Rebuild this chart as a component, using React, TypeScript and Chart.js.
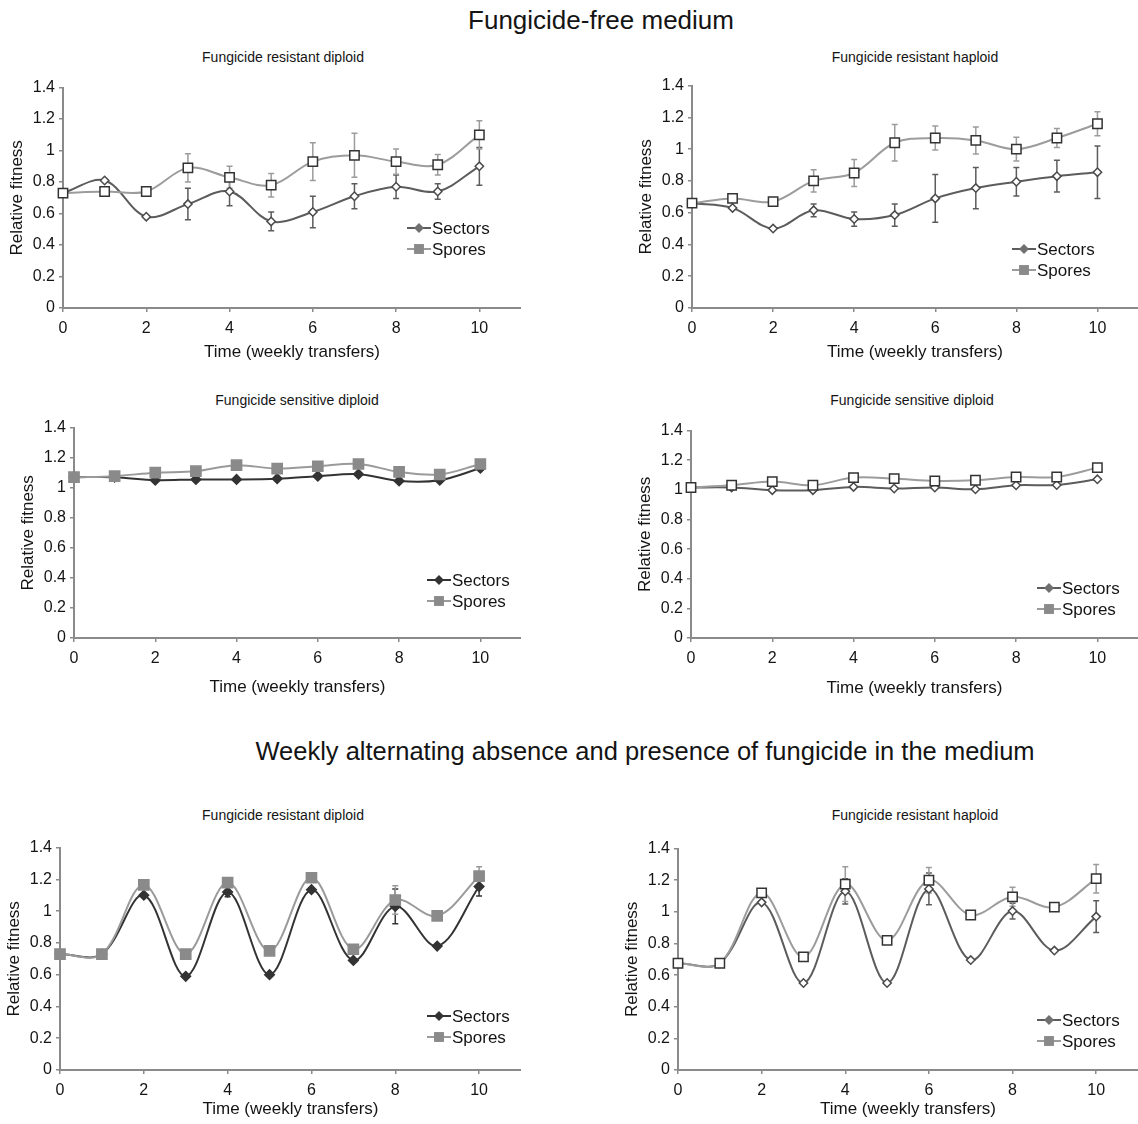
import React, { useEffect, useRef } from 'react';
import { Chart, registerables } from 'chart.js';

Chart.register(...registerables);

const FONT = '"Liberation Sans", Arial, Helvetica, sans-serif';

// ---------- data ----------
const WEEKS = [0, 1, 2, 3, 4, 5, 6, 7, 8, 9, 10];
const X_TICKS = [0, 2, 4, 6, 8, 10];
const Y_TICKS = [0, 0.2, 0.4, 0.6, 0.8, 1, 1.2, 1.4];
const SERIES_NAMES = ['Sectors', 'Spores'];
const MAIN_TITLES = [
  'Fungicide-free medium',
  'Weekly alternating absence and presence of fungicide in the medium',
];
const PANEL_TITLES = [
  'Fungicide resistant diploid',
  'Fungicide resistant haploid',
  'Fungicide sensitive diploid',
  'Fungicide sensitive diploid',
  'Fungicide resistant diploid',
  'Fungicide resistant haploid',
];
const X_TITLE = 'Time (weekly transfers)';
const Y_TITLE = 'Relative fitness';

// Panel A: fungicide-free, resistant diploid
const A_SECTORS = [0.73, 0.81, 0.58, 0.66, 0.74, 0.55, 0.61, 0.71, 0.77, 0.74, 0.9];
const A_SECTORS_ERR = [0, 0, 0, 0.1, 0.09, 0.06, 0.1, 0.08, 0.075, 0.05, 0.12];
const A_SPORES = [0.73, 0.74, 0.74, 0.89, 0.83, 0.78, 0.93, 0.97, 0.93, 0.91, 1.1];
const A_SPORES_ERR = [0, 0, 0, 0.09, 0.07, 0.075, 0.12, 0.14, 0.08, 0.065, 0.09];

// Panel B: fungicide-free, resistant haploid
const B_SECTORS = [0.66, 0.63, 0.5, 0.615, 0.56, 0.585, 0.69, 0.755, 0.795, 0.83, 0.855];
const B_SECTORS_ERR = [0, 0, 0, 0.04, 0.045, 0.07, 0.15, 0.13, 0.09, 0.1, 0.165];
const B_SPORES = [0.66, 0.69, 0.67, 0.8, 0.85, 1.04, 1.07, 1.055, 1.0, 1.07, 1.16];
const B_SPORES_ERR = [0, 0, 0, 0.07, 0.085, 0.115, 0.075, 0.085, 0.075, 0.06, 0.075];

// Panel C: fungicide-free, sensitive diploid (filled markers)
const C_SECTORS = [1.07, 1.07, 1.05, 1.055, 1.055, 1.06, 1.077, 1.09, 1.045, 1.05, 1.13];
const C_SECTORS_ERR = [0, 0, 0, 0, 0, 0, 0, 0, 0, 0, 0];
const C_SPORES = [1.07, 1.077, 1.1, 1.11, 1.15, 1.127, 1.143, 1.158, 1.105, 1.088, 1.158];
const C_SPORES_ERR = [0, 0, 0, 0, 0, 0, 0, 0, 0, 0, 0];

// Panel D: fungicide-free, sensitive diploid (open markers)
const D_SECTORS = [1.016, 1.016, 0.998, 0.998, 1.02, 1.009, 1.016, 1.004, 1.031, 1.033, 1.071];
const D_SECTORS_ERR = [0, 0, 0, 0, 0, 0, 0, 0, 0, 0, 0];
const D_SPORES = [1.016, 1.031, 1.056, 1.031, 1.083, 1.076, 1.06, 1.065, 1.087, 1.087, 1.15];
const D_SPORES_ERR = [0, 0, 0, 0, 0, 0, 0, 0, 0, 0, 0];

// Panel E: alternating, resistant diploid (filled markers)
const E_SECTORS = [0.73, 0.73, 1.1, 0.59, 1.12, 0.6, 1.135, 0.69, 1.03, 0.78, 1.155];
const E_SECTORS_ERR = [0, 0, 0, 0, 0.03, 0, 0, 0, 0.11, 0, 0.06];
const E_SPORES = [0.73, 0.73, 1.165, 0.73, 1.18, 0.75, 1.21, 0.76, 1.07, 0.97, 1.22];
const E_SPORES_ERR = [0, 0, 0, 0, 0, 0, 0, 0, 0.09, 0, 0.06];

// Panel F: alternating, resistant haploid (open markers)
const F_SECTORS = [0.675, 0.675, 1.06, 0.55, 1.13, 0.55, 1.145, 0.695, 1.005, 0.755, 0.97];
const F_SECTORS_ERR = [0, 0, 0, 0, 0.08, 0, 0.1, 0, 0.05, 0, 0.1];
const F_SPORES = [0.675, 0.675, 1.12, 0.715, 1.175, 0.82, 1.2, 0.98, 1.095, 1.03, 1.21];
const F_SPORES_ERR = [0, 0, 0, 0, 0.11, 0, 0.08, 0, 0.06, 0, 0.09];

// ---------- styling ----------
const COL = {
  text: '#141414',
  axis: '#8a8a8a',
  secLineOpen: '#5c5c5c',
  secMarkOpen: '#4a4a4a',
  sporeLineOpen: '#9c9c9c',
  sporeMarkOpen: '#333333',
  secFilled: '#333333',
  sporeLineFilled: '#9a9a9a',
  sporeFill: '#8a8a8a',
  legSecOpen: '#707070',
  legSporeOpen: '#8a8a8a',
};

const Y_AXIS_W = 56;
const PAD_TOP = 12;

type Spec = {
  title: string;
  titleX: number;
  titleY: number;
  plotL: number;
  plotT: number;
  plotB: number;
  plotR: number;
  xAxisH: number;
  sectors: number[];
  sectorsErr: number[];
  spores: number[];
  sporesErr: number[];
  filled: boolean;
  legendX: number;
  legendY: number;
};

const SPECS: Spec[] = [
  { title: PANEL_TITLES[0], titleX: 283, titleY: 57, plotL: 63, plotT: 86, plotB: 308, plotR: 521, xAxisH: 55,
    sectors: A_SECTORS, sectorsErr: A_SECTORS_ERR, spores: A_SPORES, sporesErr: A_SPORES_ERR, filled: false, legendX: 432, legendY: 228 },
  { title: PANEL_TITLES[1], titleX: 915, titleY: 57, plotL: 692, plotT: 84, plotB: 308, plotR: 1138, xAxisH: 55,
    sectors: B_SECTORS, sectorsErr: B_SECTORS_ERR, spores: B_SPORES, sporesErr: B_SPORES_ERR, filled: false, legendX: 1037, legendY: 249 },
  { title: PANEL_TITLES[2], titleX: 297, titleY: 400, plotL: 74, plotT: 426, plotB: 638, plotR: 521, xAxisH: 60,
    sectors: C_SECTORS, sectorsErr: C_SECTORS_ERR, spores: C_SPORES, sporesErr: C_SPORES_ERR, filled: true, legendX: 452, legendY: 580 },
  { title: PANEL_TITLES[3], titleX: 912, titleY: 400, plotL: 691, plotT: 429, plotB: 638, plotR: 1138, xAxisH: 61,
    sectors: D_SECTORS, sectorsErr: D_SECTORS_ERR, spores: D_SPORES, sporesErr: D_SPORES_ERR, filled: false, legendX: 1062, legendY: 588 },
  { title: PANEL_TITLES[4], titleX: 283, titleY: 815, plotL: 60, plotT: 846, plotB: 1070, plotR: 521, xAxisH: 50,
    sectors: E_SECTORS, sectorsErr: E_SECTORS_ERR, spores: E_SPORES, sporesErr: E_SPORES_ERR, filled: true, legendX: 452, legendY: 1016 },
  { title: PANEL_TITLES[5], titleX: 915, titleY: 815, plotL: 678, plotT: 847, plotB: 1070, plotR: 1138, xAxisH: 50,
    sectors: F_SECTORS, sectorsErr: F_SECTORS_ERR, spores: F_SPORES, sporesErr: F_SPORES_ERR, filled: false, legendX: 1062, legendY: 1020 },
];

function drawMarker(ctx: CanvasRenderingContext2D, style: string, x: number, y: number, r: number) {
  ctx.beginPath();
  if (style === 'rectRot') {
    ctx.moveTo(x - r, y);
    ctx.lineTo(x, y - r);
    ctx.lineTo(x + r, y);
    ctx.lineTo(x, y + r);
    ctx.closePath();
  } else {
    const s = r * Math.SQRT1_2;
    ctx.rect(x - s, y - s, 2 * s, 2 * s);
  }
  ctx.fill();
}

function Panel({ spec }: { spec: Spec }) {
  const ref = useRef<HTMLCanvasElement | null>(null);
  const left = spec.plotL - Y_AXIS_W;
  const top = spec.plotT - PAD_TOP;
  const width = spec.plotR - left;
  const height = spec.plotB - top + spec.xAxisH;

  useEffect(() => {
    if (!ref.current) return;
    const f = spec.filled;
    const series = [
      {
        name: SERIES_NAMES[0],
        vals: spec.sectors,
        err: spec.sectorsErr,
        line: f ? COL.secFilled : COL.secLineOpen,
        mark: f ? COL.secFilled : COL.secMarkOpen,
        fill: f ? COL.secFilled : '#ffffff',
        legFill: f ? COL.secFilled : COL.legSecOpen,
        style: 'rectRot',
        radius: f ? 4.8 : 4.2,
        legRadius: 5,
      },
      {
        name: SERIES_NAMES[1],
        vals: spec.spores,
        err: spec.sporesErr,
        line: f ? COL.sporeLineFilled : COL.sporeLineOpen,
        mark: f ? COL.sporeFill : COL.sporeMarkOpen,
        fill: f ? COL.sporeFill : '#ffffff',
        legFill: f ? COL.sporeFill : COL.legSporeOpen,
        style: 'rect',
        radius: f ? 7.2 : 6.6,
        legRadius: 7,
      },
    ];

    const errorBars = {
      id: 'errorBars',
      beforeDatasetsDraw(chart: any) {
        const { ctx } = chart;
        const xs = chart.scales.x;
        const ys = chart.scales.y;
        ctx.save();
        ctx.lineWidth = 1.5;
        series.forEach((s) => {
          ctx.strokeStyle = s.line;
          s.err.forEach((e, i) => {
            if (!e) return;
            const px = xs.getPixelForValue(WEEKS[i]);
            const y1 = ys.getPixelForValue(s.vals[i] + e);
            const y2 = ys.getPixelForValue(s.vals[i] - e);
            ctx.beginPath();
            ctx.moveTo(px, y1);
            ctx.lineTo(px, y2);
            ctx.moveTo(px - 3, y1);
            ctx.lineTo(px + 3, y1);
            ctx.moveTo(px - 3, y2);
            ctx.lineTo(px + 3, y2);
            ctx.stroke();
          });
        });
        ctx.restore();
      },
    };

    const legendPlugin = {
      id: 'innerLegend',
      afterDraw(chart: any) {
        const { ctx } = chart;
        ctx.save();
        series.forEach((s, k) => {
          const cy = spec.legendY - top + k * 21;
          const tx = spec.legendX - left;
          ctx.strokeStyle = s.line;
          ctx.lineWidth = 2;
          ctx.beginPath();
          ctx.moveTo(tx - 25, cy);
          ctx.lineTo(tx - 1, cy);
          ctx.stroke();
          ctx.fillStyle = s.legFill;
          drawMarker(ctx, s.style, tx - 13, cy, s.legRadius);
          ctx.fillStyle = COL.text;
          ctx.font = `17px ${FONT}`;
          ctx.textAlign = 'left';
          ctx.textBaseline = 'middle';
          ctx.fillText(s.name, tx, cy + 1);
        });
        ctx.restore();
      },
    };

    const axisGrid = {
      drawOnChartArea: false,
      drawTicks: true,
      tickLength: 4,
      color: COL.axis,
      lineWidth: 1.5,
    };
    const axisBorder = { display: true, color: COL.axis, width: 2 };

    const chart = new Chart(ref.current, {
      type: 'line',
      data: {
        datasets: series.map((s, idx) => ({
          label: s.name,
          data: WEEKS.map((w, i) => ({ x: w, y: s.vals[i] })),
          borderColor: s.line,
          borderWidth: 2,
          backgroundColor: s.fill,
          pointStyle: s.style as any,
          pointRadius: s.radius,
          pointBackgroundColor: s.fill,
          pointBorderColor: s.mark,
          pointBorderWidth: 1.5,
          tension: 0.35,
          fill: false,
          clip: false,
          order: idx === 0 ? 1 : 0,
        })),
      },
      options: {
        animation: false,
        responsive: false,
        maintainAspectRatio: false,
        events: [],
        layout: { autoPadding: false, padding: { top: PAD_TOP, left: 0, right: 0, bottom: 0 } },
        plugins: {
          legend: { display: false },
          title: { display: false },
          tooltip: { enabled: false },
        },
        scales: {
          x: {
            type: 'linear',
            min: 0,
            max: 11,
            afterBuildTicks: (s: any) => {
              s.ticks = X_TICKS.map((v) => ({ value: v }));
            },
            afterFit: (s: any) => {
              s.height = spec.xAxisH;
              s.paddingLeft = 0;
              s.paddingRight = 0;
            },
            ticks: {
              font: { family: FONT, size: 16 },
              color: COL.text,
              padding: 7,
              maxRotation: 0,
              autoSkip: false,
              callback: (v: any) => String(v),
            },
            grid: axisGrid,
            border: axisBorder,
            title: {
              display: true,
              text: X_TITLE,
              font: { family: FONT, size: 17 },
              color: COL.text,
              padding: 0,
            },
          },
          y: {
            type: 'linear',
            min: 0,
            max: 1.4,
            afterBuildTicks: (s: any) => {
              s.ticks = Y_TICKS.map((v) => ({ value: v }));
            },
            afterFit: (s: any) => {
              s.width = Y_AXIS_W;
            },
            ticks: {
              font: { family: FONT, size: 16 },
              color: COL.text,
              padding: 4,
              autoSkip: false,
              callback: (v: any) => String(Number(Number(v).toFixed(1))),
            },
            grid: axisGrid,
            border: axisBorder,
            title: {
              display: true,
              text: Y_TITLE,
              font: { family: FONT, size: 17 },
              color: COL.text,
              padding: 0,
            },
          },
        },
      } as any,
      plugins: [errorBars, legendPlugin],
    });
    return () => chart.destroy();
  }, [spec]);

  return (
    <>
      <div
        style={{
          position: 'absolute',
          left: spec.titleX,
          top: spec.titleY,
          transform: 'translate(-50%, -50%)',
          font: `14px ${FONT}`,
          lineHeight: '14px',
          whiteSpace: 'nowrap',
          color: COL.text,
        }}
      >
        {spec.title}
      </div>
      <canvas
        ref={ref}
        width={width}
        height={height}
        style={{
          position: 'absolute',
          left,
          top,
          width,
          height,
        }}
      />
    </>
  );
}

export default function App() {
  useEffect(() => {
    document.body.style.margin = '0';
  }, []);
  const head = (text: string, x: number, y: number, size: number) => (
    <div
      style={{
        position: 'absolute',
        left: x,
        top: y,
        transform: 'translate(-50%, -50%)',
        font: `${size}px ${FONT}`,
        lineHeight: `${size}px`,
        whiteSpace: 'nowrap',
        color: COL.text,
      }}
    >
      {text}
    </div>
  );
  return (
    <div
      style={{
        position: 'absolute',
        left: 0,
        top: 0,
        width: 1138,
        height: 1124,
        overflow: 'hidden',
        background: '#ffffff',
      }}
    >
      {head(MAIN_TITLES[0], 601, 20, 26)}
      {head(MAIN_TITLES[1], 645, 752, 25.5)}
      {SPECS.map((s, i) => (
        <Panel key={i} spec={s} />
      ))}
    </div>
  );
}
